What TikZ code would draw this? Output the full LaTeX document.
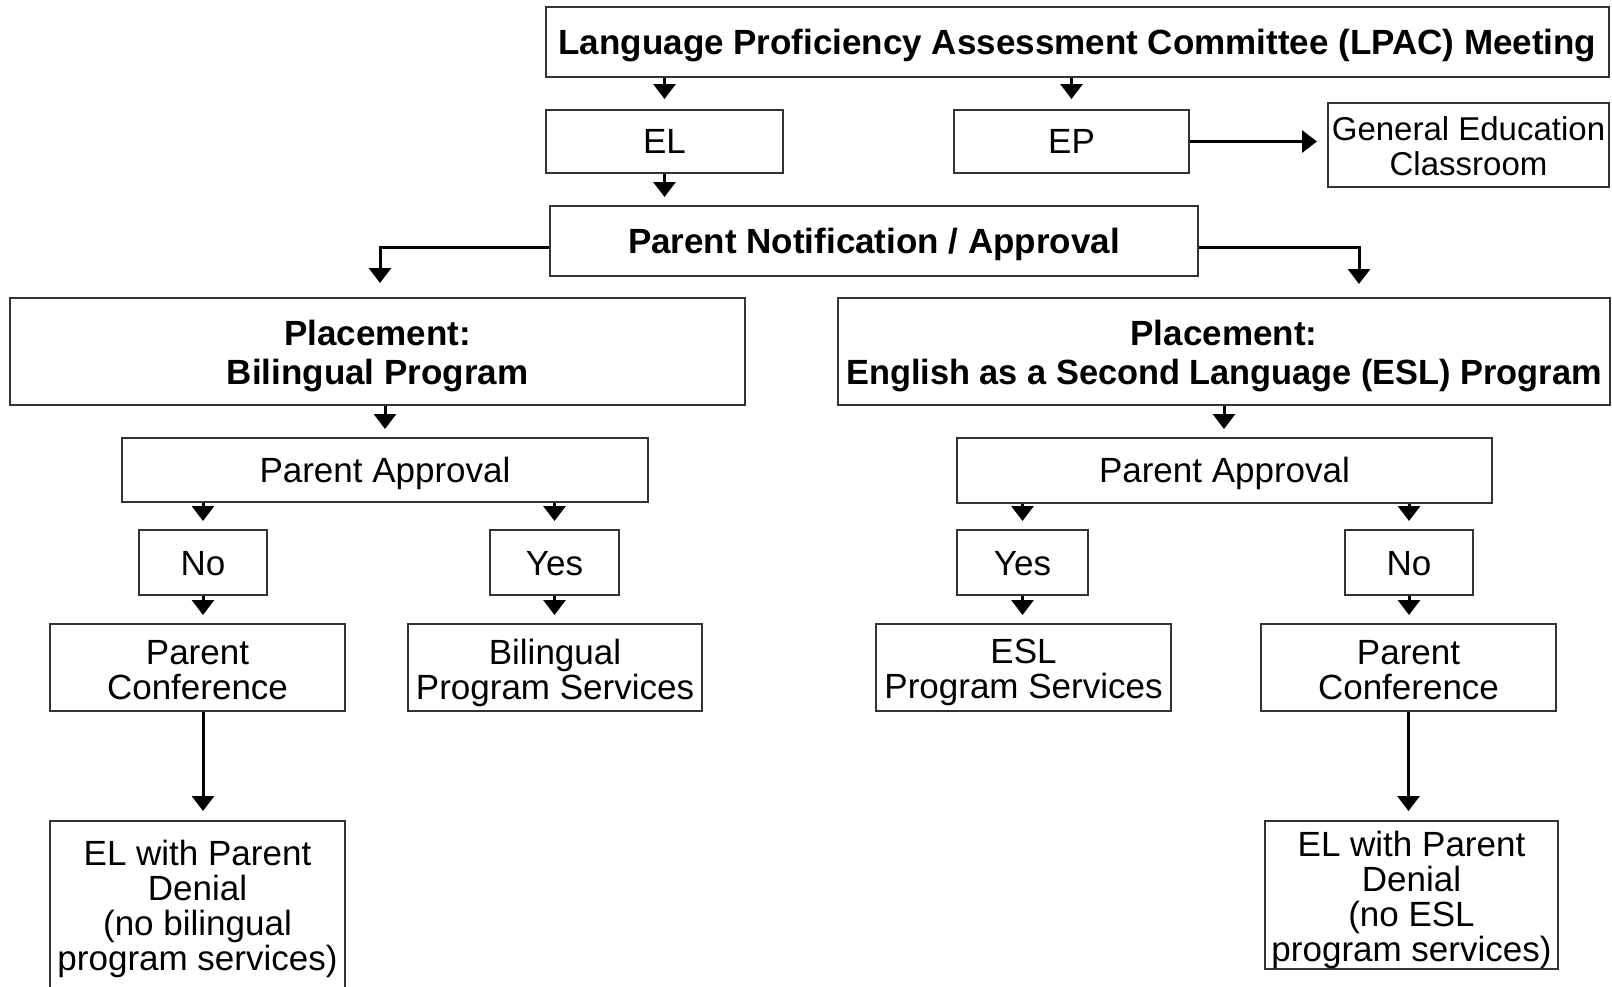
\documentclass[tikz,border=0pt]{standalone}
\usepackage{fontspec}
\usepackage{graphicx}
\setmainfont{Liberation Sans}
\usetikzlibrary{arrows.meta}
\newlength{\pxu}\setlength{\pxu}{0.5pt}
% centred lines, lowered a little without changing the box size
\newcommand{\btext}[2][1.5pt]{\raisebox{-#1}[\height][\depth]{\vbox{\let\\\cr\halign{\hfil##\hfil\cr#2\crcr}}}}
\begin{document}
\begin{tikzpicture}[x=0.5pt,y=-0.5pt,
  box/.style={draw=black!80, line width=1pt, inner sep=0pt,
    font=\fontsize{17.5pt}{17.5pt}\selectfont},
  bbox/.style={box, font=\fontsize{17.5pt}{19.5pt}\selectfont\bfseries},
  arr/.style={line width=1.5pt, -{Triangle[width=11pt,length=7.5pt]}, shorten >=4pt},
]
\useasboundingbox (0,0) rectangle (1612,986);
\clip (0,0) rectangle (1612,986);

% top level
\node[bbox, minimum width=1063\pxu, minimum height=70\pxu] (lpac) at (1077.5,42)
  {\btext[2pt]{Language Proficiency Assessment Committee (LPAC) Meeting}};
\node[box, minimum width=237\pxu, minimum height=63\pxu] (el) at (664.5,141.5) {\btext[0pt]{EL}};
\node[box, minimum width=235\pxu, minimum height=63\pxu] (ep) at (1071.5,141.5) {\btext[0pt]{EP}};
\node[box, minimum width=281\pxu, minimum height=84\pxu,
  font=\fontsize{16.5pt}{17.5pt}\selectfont] (gen) at (1468.5,145)
  {\btext[0.5pt]{General Education\\Classroom}};
\node[bbox, minimum width=648\pxu, minimum height=70\pxu] (pn) at (874,241)
  {\btext[1.5pt]{Parent Notification / Approval}};

% placements
\node[bbox, minimum width=735\pxu, minimum height=107\pxu] (bil) at (377.5,351.5)
  {\btext[2.5pt]{Placement:\\Bilingual Program}};
\node[bbox, minimum width=772\pxu, minimum height=107\pxu] (esl) at (1224,351.5)
  {\btext[2.5pt]{Placement:\\\scalebox{0.981}[1]{English as a Second Language (ESL) Program}}};
\coordinate (eslT) at (1359,298);

% parent approval
\node[box, minimum width=526\pxu, minimum height=64\pxu] (paL) at (385,470) {\btext{Parent Approval}};
\node[box, minimum width=535\pxu, minimum height=65\pxu] (paR) at (1224.5,470.5) {\btext{Parent Approval}};

% yes / no
\node[box, minimum width=128\pxu, minimum height=65\pxu] (noL) at (203,562.5) {\btext[0.5pt]{No}};
\node[box, minimum width=129\pxu, minimum height=65\pxu] (yesL) at (554.5,562.5) {\btext[0.5pt]{Yes}};
\node[box, minimum width=131\pxu, minimum height=65\pxu] (yesR) at (1022.5,562.5) {\btext[0.5pt]{Yes}};
\node[box, minimum width=128\pxu, minimum height=65\pxu] (noR) at (1409,562.5) {\btext[0.5pt]{No}};

% outcomes
\node[box, minimum width=295\pxu, minimum height=87\pxu] (pcL) at (197.5,667.5) {\btext[1.5pt]{Parent\\Conference}};
\node[box, minimum width=294\pxu, minimum height=87\pxu] (bps) at (555,667.5) {\btext[2.5pt]{Bilingual\\Program Services}};
\node[box, minimum width=295\pxu, minimum height=87\pxu] (esps) at (1023.5,667.5) {\btext[2.5pt]{ESL\\Program Services}};
\node[box, minimum width=295\pxu, minimum height=87\pxu] (pcR) at (1408.5,667.5) {\btext[1.5pt]{Parent\\Conference}};

\node[box, minimum width=295\pxu, minimum height=171\pxu] (denL) at (197.5,906.5)
  {\btext[1.3pt]{EL with Parent\\Denial\\(no bilingual\\program services)}};
\node[box, minimum width=293\pxu, minimum height=148\pxu] (denR) at (1411.5,895)
  {\btext[2.3pt]{EL with Parent\\Denial\\(no ESL\\program services)}};

% connectors
\draw[arr, shorten >=5pt] (lpac.south -| el.north) -- (el.north);
\draw[arr, shorten >=5pt] (lpac.south -| ep.north) -- (ep.north);
\draw[arr, shorten >=5pt] (ep.east) -- (ep.east -| gen.west);
\draw[arr] (el.south) -- (el.south |- pn.north);
\draw[arr, shorten >=7pt] ([yshift=-3pt]pn.west) -| ([xshift=1.25pt]bil.north);
\draw[arr, shorten >=7pt] ([yshift=-3pt]pn.east) -| (eslT);

\draw[arr] (bil.south -| paL.north) -- (paL.north);
\draw[arr] (esl.south) -- (esl.south |- paR.north);

\draw[arr] (paL.south -| noL.north) -- (noL.north);
\draw[arr] (paL.south -| yesL.north) -- (yesL.north);
\draw[arr] (paR.south -| yesR.north) -- (yesR.north);
\draw[arr] (paR.south -| noR.north) -- (noR.north);

\draw[arr] (noL.south) -- (noL.south |- pcL.north);
\draw[arr] (yesL.south) -- (yesL.south |- bps.north);
\draw[arr] (yesR.south) -- (yesR.south |- esps.north);
\draw[arr] (noR.south) -- (noR.south |- pcR.north);

\draw[arr, shorten >=4.5pt] (pcL.south -| noL.south) -- (denL.north -| noL.south);
\draw[arr, shorten >=4.5pt] (pcR.south) -- (pcR.south |- denR.north);
\end{tikzpicture}
\end{document}
